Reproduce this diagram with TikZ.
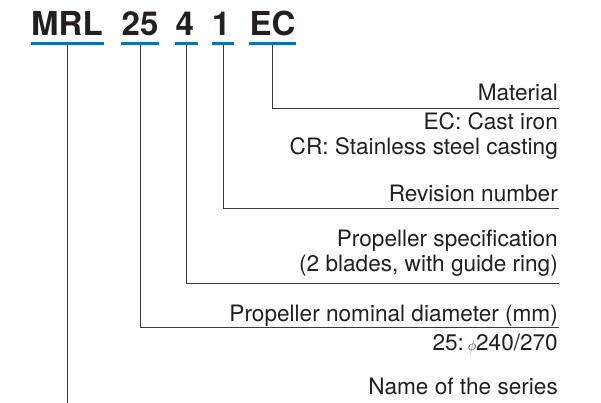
\documentclass[tikz,border=0pt]{standalone}
\usepackage{fontspec}
\setmainfont{TeX Gyre Heros}
\definecolor{txt}{HTML}{231F20}
\definecolor{ublue}{HTML}{0A72BA}
\definecolor{lgray}{HTML}{3A3A3A}
\begin{document}
\begin{tikzpicture}[x=1pt,y=-1pt,
  code/.style={anchor=base west,inner sep=0pt,font=\fontsize{33}{33}\selectfont\bfseries,text=txt},
  lbl/.style={anchor=base east,inner sep=0pt,font=\fontsize{22.6}{22.6}\selectfont,text=txt},
  uline/.style={ublue,line width=2.3pt},
  conn/.style={lgray,line width=0.9pt}]
\useasboundingbox (0,0) rectangle (601,403);
% code parts
\node[code] (mrl) at (31,36) {MRL};
\node[code] (c25) at (121.5,36) {25};
\node[code] (c4) at (175.5,36) {4};
\node[code] (c1) at (212,36) {1};
\node[code] (cec) at (249.5,36) {EC};
% underlines
\draw[uline] (31,43.5) -- (104,43.5);
\draw[uline] (121,43.5) -- (159,43.5);
\draw[uline] (175,43.5) -- (198,43.5);
\draw[uline] (212,43.5) -- (234,43.5);
\draw[uline] (249,43.5) -- (296,43.5);
% start coordinates
\coordinate (smrl) at (67.5,45);
\coordinate (s25) at (140,45);
\coordinate (s4) at (186.5,45);
\coordinate (s1) at (223,45);
\coordinate (sec) at (272.5,45);
% end coordinates
\coordinate (emrl) at (67.5,403);
\coordinate (e25) at (559,327);
\coordinate (e4) at (559,283.5);
\coordinate (e1) at (559,208);
\coordinate (eec) at (559,108);
% labels
\node[lbl] (mat) at (558,101) {Material};
\node[lbl] (mat1) at (558,130) {EC: Cast iron};
\node[lbl] (mat2) at (558,155) {CR: Stainless steel casting};
\node[lbl] (rev) at (558,201.5) {Revision number};
\node[lbl] (spec) at (558,246.7) {Propeller specification};
\node[lbl] (spec2) at (558,271) {(2 blades, with guide ring)};
\node[lbl] (dia) at (558,321) {Propeller nominal diameter (mm)};
\node[lbl] (dia2) at (558,350) {25:\,$\scriptstyle\phi$240/270};
\node[lbl] (ser) at (558,394.5) {Name of the series};
% connectors
\draw[conn] (sec) |- (eec);
\draw[conn] (s1) |- (e1);
\draw[conn] (s4) |- (e4);
\draw[conn] (s25) |- (e25);
\draw[conn] (smrl) -- (emrl);
\end{tikzpicture}
\end{document}
